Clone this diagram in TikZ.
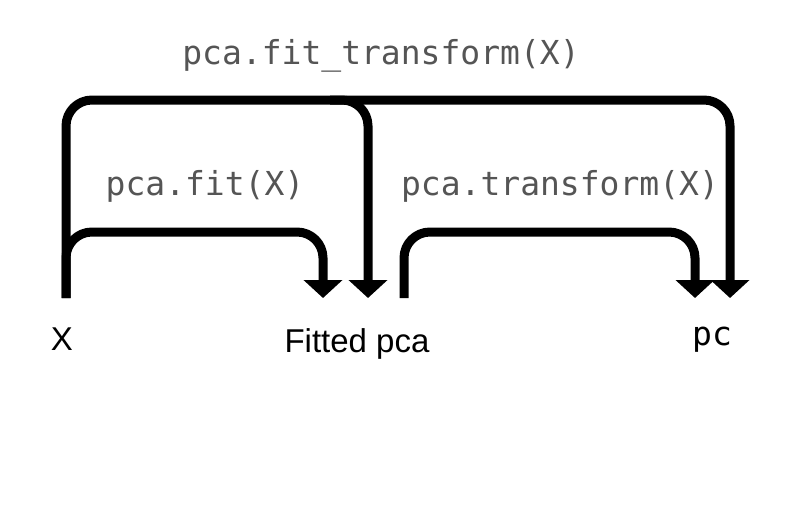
\documentclass[tikz,border=0pt]{standalone}
\usepackage{fontspec}
\setmainfont{Liberation Sans}
\setmonofont{DejaVu Sans Mono}
\usetikzlibrary{arrows.meta}

\definecolor{codegray}{RGB}{85,85,85}

\begin{document}
\begin{tikzpicture}[x = 1pt, y = -1pt]

	\useasboundingbox (0, 0) rectangle (797, 525);

	% Objects along the bottom

	\begin{scope}[anchor = base, font = \fontsize{33}{36}\selectfont]

		\node (X) at (62, 350) {X};
		\node (fitted) at (357, 352) {Fitted pca};
		\node [font = \fontsize{33}{36}\selectfont\ttfamily] (pc) at (712, 345) {pc};

	\end{scope}

	% Method calls

	\begin{scope}[anchor = base, text = codegray, font = \fontsize{33}{36}\selectfont\ttfamily]

		\node (fittransform) at (381, 64) {pca.fit\_transform(X)};
		\node (fit) at (205, 195) {pca.fit(X)};
		\node (transform) at (560, 195) {pca.transform(X)};

	\end{scope}

	% Ends of the lines

	\coordinate (Xout) at (66, 298);
	\coordinate (fittedin) at (323, 298);
	\coordinate (fittedin2) at (368, 298);
	\coordinate (fittedout) at (404, 298);
	\coordinate (pcin) at (695, 298);
	\coordinate (pcin2) at (730, 298);

	% Arrows

	\begin{scope}[> = {Triangle[width = 38pt, length = 18pt]}, line width = 9pt, rounded corners = 26pt]

		\draw (Xout) -- (66, 100) -- (730, 100) -- (pcin2) [->];
		\draw [->] (330, 100) -- (368, 100) -- (fittedin2);
		\draw [->] (Xout) -- (66, 232) -- (323, 232) -- (fittedin);
		\draw [->] (fittedout) -- (404, 232) -- (695, 232) -- (pcin);

	\end{scope}

\end{tikzpicture}
\end{document}
